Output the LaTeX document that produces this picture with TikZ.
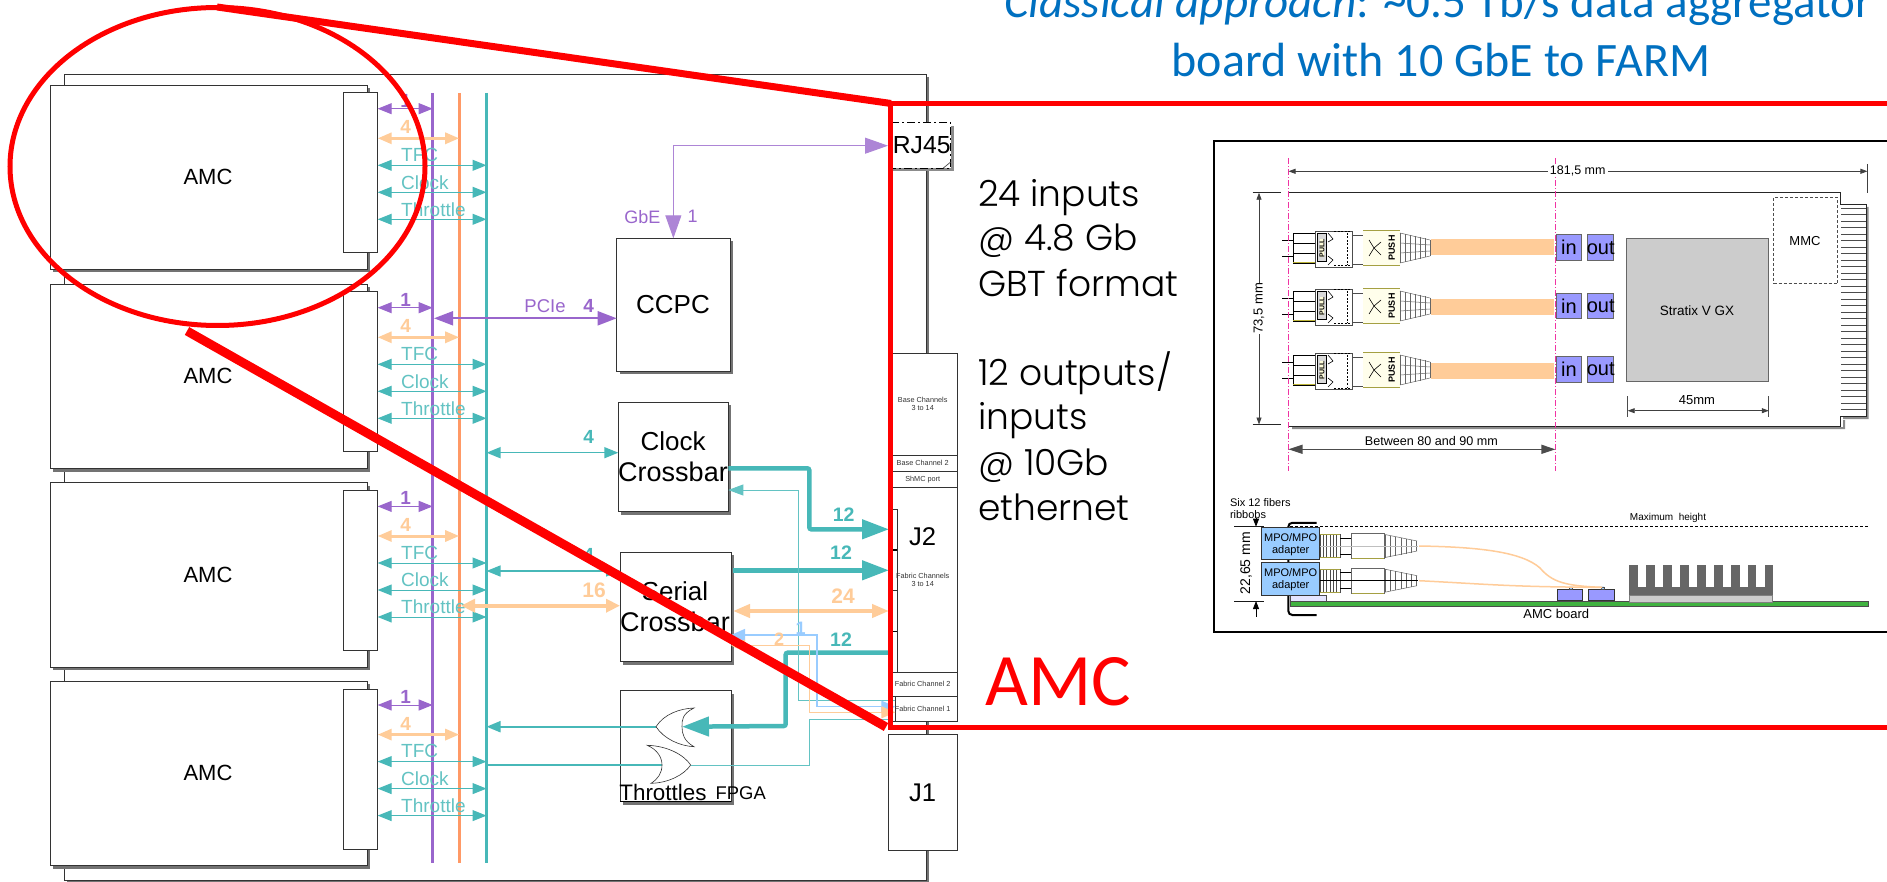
\documentclass[tikz,border=0pt]{standalone}
\usepackage{fontspec}
\setmainfont{Liberation Sans}
\newfontfamily\gothic{Poppins Light}
\newfontfamily\calib{Carlito}
\usetikzlibrary{arrows.meta,shadows,calc}
\definecolor{pur}{HTML}{9966CC}
\definecolor{pch}{HTML}{FFCC99}
\definecolor{org}{HTML}{FF9966}
\definecolor{tl}{HTML}{47B8B8}
\definecolor{lbl}{HTML}{99CCFF}
\definecolor{inb}{HTML}{9999FF}
\definecolor{ttl}{HTML}{0070C0}
\newcounter{txc}
\newcommand\bx[6]{%
 \pgfmathsetmacro\bxw{(#5)-(#3)}\pgfmathsetmacro\bxh{(#6)-(#4)}%
 \node[#2,minimum width=\bxw pt,minimum height=\bxh pt,inner sep=0pt,outer sep=0pt] (#1) at ({((#3)+(#5))/2},{((#4)+(#6))/2}) {};}
\newcommand\tx[5]{% x y size colour/options text
 \stepcounter{txc}\node[inner sep=0pt,#4,font=\fontsize{#3}{#3}\selectfont] (t\arabic{txc}) at (#1,#2) {#5};}
\newcommand\plugtop[1]{\begin{scope}[shift={(0,#1)}]
 \draw[line width=.7pt] (1282,-7.3) -- (1293,-7.3) (1282,8) -- (1293,8);
 \filldraw[fill=white,draw=black,line width=.8pt] (1293.3,-14.7) rectangle (1315.7,15.3);
 \draw[line width=.7pt] (1293.3,-4.7) -- (1315.7,-4.7) (1293.3,5.3) -- (1315.7,5.3);
 \draw[yellow!70!black,line width=.7pt] (1293.3,14.5) -- (1315.7,14.5);
 \filldraw[fill=white,draw=black!70,line width=.8pt] (1315,-17) rectangle (1352,19);
 \filldraw[fill=black!15,draw=black,line width=.6pt] (1317,-15) rectangle (1326,13);
 \node[inner sep=0pt,rotate=90,font=\fontsize{7}{7}\selectfont\bfseries,fill=yellow!15] (pl#1) at (1322,0) {PULL};
 \draw[line width=.6pt] (1328,-15) -- (1333,-9) -- (1328,-6) (1328,17) -- (1333,12) -- (1328,8);
 \draw[line width=1pt,dash pattern=on 2pt off 1.5pt] (1334,-16) -- (1350,-16) (1334,18) -- (1350,18) (1347.5,-15) -- (1347.5,17);
 \filldraw[fill=white,draw=black!70,line width=.6pt] (1352,-13) rectangle (1363,16);
 \fill[yellow!8] (1363,-18) rectangle (1400,17);
 \draw[yellow!60!black,line width=.5pt] (1363,-18) -- (1400,-18) (1363,17) -- (1400,17);
 \draw[line width=.6pt] (1369,-8) -- (1374,0) -- (1381,-6) (1374,0) -- (1369,8) (1374,0) -- (1381,7);
 \node[inner sep=0pt,rotate=90,font=\fontsize{9}{9}\selectfont\bfseries] (pu#1) at (1391.8,0) {PUSH};
 \foreach \k/\hh in {0/15,1/14,2/13,3/12,4/11,5/9.5,6/8}{\draw[black!60,line width=.7pt] ({1400+\k*5},-\hh) -- ({1400+\k*5},\hh);}
 \draw[black!60,line width=.5pt] (1400,-15) -- (1430,-8) (1400,15) -- (1430,8) (1400,-5) -- (1430,-3) (1400,5) -- (1430,3);
 \end{scope}}
\newcommand\plugside[2]{\begin{scope}[shift={(0,#1)}]
 \foreach \k in {0,...,5}{\draw[black!70,line width=.6pt,fill=white] ({1320+\k*3.3},-11.7) rectangle ++(3.3,23.4);}
 \draw[yellow!60!black,line width=.6pt] (1320,-11.7) -- (1340,-11.7) (1320,11.7) -- (1340,11.7);
 \draw[line width=.8pt] (1340,-8) -- (1351,-8) (1340,8) -- (1351,8);
 \filldraw[fill=white,draw=black!60,line width=.7pt] (1351,-12.7) rectangle (1384.3,12.7);
 \draw[yellow!60!black,line width=.7pt] (1352,12.7) -- (1384,12.7);
 \foreach \k/\hh in {0/11.5,1/10.5,2/9.5,3/8.5,4/7.5,5/6.5,6/5}{\draw[black!60,line width=.8pt] ({1385+\k*5.3},-\hh) -- ({1385+\k*5.3},\hh);}
 \draw[black!60,line width=.5pt] (1385,-11.5) -- (1417,-5) (1385,11.5) -- (1417,5);
 \draw[#2,line width=1pt] (1320,0) -- (1418,0);
 \end{scope}}
\tikzset{
 box/.style={draw=black!80,fill=white,line width=.8pt},
 shbox/.style={box,general shadow={fill=black!55,shadow xshift=3pt,shadow yshift=-3pt}},
 tiph/.style={arrows={Triangle[length=14pt,width=11pt]-Triangle[length=14pt,width=11pt]}},
 bigr/.style={arrows={-Triangle[length=27pt,width=19pt]},line width=4.5pt,tl},
 redl/.style={red,line width=6pt},
 pinkd/.style={magenta!80,line width=.8pt,dash pattern=on 6pt off 2pt on 1pt off 2pt},
 dimb/.style={black!75,line width=.8pt,arrows={Triangle[length=7pt,width=5pt]-Triangle[length=7pt,width=5pt]}},
}
\begin{document}
\begin{tikzpicture}[x=1pt,y=-1pt]
\useasboundingbox (0,0) rectangle (1887,882);
\clip (0,0) rectangle (1887,882);
\fill[white] (0,0) rectangle (1887,882);
% carrier board
\bx{board}{shbox}{64.3}{74}{926}{880}
% buses
\coordinate (bP) at (432.7,93); \coordinate (bO) at (459.2,93); \coordinate (bT) at (486.5,93);
\coordinate (bPe) at (432.7,863.3); \coordinate (bOe) at (459.2,863.3); \coordinate (bTe) at (486.5,863.3);
% AMC cards
\foreach \i/\t in {1/85,2/284,3/482.7,4/681.3}{
 \bx{amc\i}{shbox}{50.2}{\t}{367.2}{\t+184.5}
 \bx{conn\i}{box}{343}{\t+7.7}{377.7}{\t+167.7}
 \tx{208}{\t+92}{22}{}{AMC}
}
\draw[line width=3pt,pur] (bP) -- (bPe);
\draw[line width=3pt,org] (bO) -- (bOe);
\draw[line width=3pt,tl] (bT) -- (bTe);
\foreach \i in {1,2,3,4}{
 \coordinate (ap) at ($(conn\i.north east)+(0,16)$);
 \coordinate (ao) at ($(conn\i.north east)+(0,45.6)$);
 \coordinate (at) at ($(conn\i.north east)+(0,72.6)$);
 \coordinate (ac) at ($(conn\i.north east)+(0,99.6)$);
 \coordinate (ah) at ($(conn\i.north east)+(0,126.6)$);
 \draw[tiph,pur,line width=1pt] (ap) -- (ap -| bP);
 \draw[tiph,pch,line width=3pt] (ao) -- (ao -| bO);
 \draw[tiph,tl,line width=1pt] (at) -- (at -| bT);
 \draw[tiph,tl,line width=1pt] (ac) -- (ac -| bT);
 \draw[tiph,tl,line width=1pt] (ah) -- (ah -| bT);
 \path (ap) ++(28,-8) node[inner sep=0pt,pur,font=\fontsize{19}{19}\selectfont\bfseries] (l1\i) {1};
 \path (ao) ++(28,-11) node[inner sep=0pt,pch,font=\fontsize{19}{19}\selectfont\bfseries] (l4\i) {4};
 \path (at) ++(23.3,-10.5) node[inner sep=0pt,anchor=west,tl!85,font=\fontsize{19}{19}\selectfont] (lt\i) {TFC};
 \path (ac) ++(23.3,-10) node[inner sep=0pt,anchor=west,tl!85,font=\fontsize{19}{19}\selectfont] (lc\i) {Clock};
 \path (ah) ++(23.3,-10) node[inner sep=0pt,anchor=west,tl!85,font=\fontsize{19}{19}\selectfont] (lh\i) {Throttle};
}
% blocks
\bx{ccpc}{shbox}{616.7}{238.3}{730}{371}
\tx{673}{304.5}{26}{}{CCPC}
\bx{clk}{shbox}{618.3}{402.3}{728.3}{511.7}
\tx{673}{441.7}{26}{}{Clock}
\tx{673}{471.7}{27}{}{Crossbar}
\bx{ser}{shbox}{620}{552.3}{731}{661.7}
\tx{675}{591.7}{26}{}{Serial}
\tx{675}{621.7}{27}{}{Crossbar}
\bx{thr}{shbox}{620}{690.7}{731}{801.7}
% right side connectors
\bx{base}{box}{889}{353.3}{957.3}{455.7}
\bx{base2}{box}{889}{455.7}{957.3}{471}
\bx{shmc}{box}{889}{471}{957.3}{487.3}
\bx{j2}{box}{889}{487.3}{957.3}{672.7}
\bx{fab2}{box}{889}{672.7}{957.3}{696.7}
\bx{fab1}{box}{889}{696.7}{957.3}{721.7}
\bx{fab1b}{box}{889}{696.7}{895.3}{721.7}
\bx{j1}{box}{888.3}{734.3}{957.3}{850}
\foreach \n/\a/\b in {n1/509.3/550,n2/550/590.7,n3/590.7/631.7,n4/631.7/672.7}{\bx{\n}{box}{889}{\a}{897.3}{\b}}
\draw[black,line width=1.5pt] (n1.south west) -- (n1.south east) (n3.south west) -- (n3.south east);
\tx{922.7}{400}{7.3}{black!80}{Base Channels}
\tx{922.7}{408}{7.3}{black!80}{3 to 14}
\tx{922.7}{463.3}{7.3}{black!80}{Base Channel 2}
\tx{922.7}{480}{7.3}{black!80}{ShMC port}
\tx{922.7}{575.7}{7.3}{black!80}{Fabric Channels}
\tx{922.7}{584.3}{7.3}{black!80}{3 to 14}
\tx{922.7}{684.3}{7.3}{black!80}{Fabric Channel 2}
\tx{922.7}{709.3}{7.3}{black!80}{Fabric Channel 1}
\tx{922.7}{536.7}{25.6}{}{J2}
\tx{922.7}{793.3}{25.6}{}{J1}
% RJ45
\bx{rj}{draw=none,fill=black!45}{892}{126}{953.5}{171}
\bx{rjb}{draw=black,fill=white,line width=.8pt,dash pattern=on 8pt off 3pt on 2pt off 3pt}{888}{122.7}{950.7}{168.3}
\draw[black!70,line width=.7pt] (943,168.3) -- (950.7,162);
\tx{921.7}{145}{24.7}{}{RJ45}
% gates and connectors
\coordinate (g1t) at (656,726.7); \coordinate (g1a) at (682,726.7);
\coordinate (g2t) at (690.7,765); \coordinate (g2a) at (662,765);
\draw[tl,line width=2pt,arrows={Triangle[length=14pt,width=11pt]-}] (bT |- g1t) -- (g1t);
\draw[tl,line width=2pt] (bT |- g2a) -- (g2a);
\filldraw[fill=white,draw=black!80,line width=.6pt] (g1t) .. controls (664,714) and (680,708.5) .. (694,708) .. controls (682,714) and (682,720) .. (g1a) .. controls (682,734) and (684,741) .. (694,746.7) .. controls (680,746) and (664,739) .. (g1t) -- cycle;
\filldraw[fill=white,draw=black!80,line width=.6pt] (g2t) .. controls (684,755) and (668,746) .. (647.3,745.3) .. controls (658,750) and (662,758) .. (g2a) .. controls (662,773) and (658,779) .. (651,783.3) .. controls (668,783) and (684,775) .. (g2t) -- cycle;
\tx{706.7}{792.7}{22.4}{anchor=east}{Throttles}
\tx{766}{793.3}{18.4}{anchor=east}{FPGA}
\draw[black,line width=.8pt] (620,801.7) -- (731,801.7);
% bus to blocks
\coordinate (pcE) at (ccpc.west |- 0,318.3);
\draw[pur,line width=2pt,arrows={Triangle[length=19pt,width=14pt]-Triangle[length=19pt,width=14pt]}] (434,318.3) -- (pcE);
\tx{545}{306}{18.5}{pur}{PCIe}
\tx{588.6}{306}{19}{pur}{\bfseries 4}
\coordinate (clE) at (clk.west |- 0,452.7);
\draw[tl,line width=1.5pt,tiph] (clE -| bT) -- (clE);
\tx{588.6}{437}{19}{tl}{\bfseries 4}
\coordinate (seE) at (ser.west |- 0,571);
\draw[tl,line width=1.5pt,tiph] (seE -| bT) -- (seE);
\tx{588.6}{555}{19}{tl}{\bfseries 4}
\coordinate (seO) at (ser.west |- 0,605.7);
\draw[pch,line width=4pt,arrows={Triangle[length=14pt,width=13pt]-Triangle[length=14pt,width=13pt]}] (461,605.7) -- (seO);
\tx{594}{590}{21}{pch}{\bfseries 16}
% RJ45 to CCPC
\coordinate (rjW) at (rjb.west |- 0,145.7);
\coordinate (rjC) at (ccpc.north |- 0,145.7);
\draw[pur!80,line width=1pt,arrows={Triangle[length=23pt,width=16pt]-Triangle[length=23pt,width=16pt]}] (ccpc.north) -- (rjC) -- (rjW);
\tx{642.3}{216.7}{18}{pur}{GbE}
\tx{692.7}{216.7}{18}{pur}{1}
% crossbar outputs
\draw[bigr,rounded corners=2pt] (clk.east |- 0,468.3) -- (809.3,468.3) -- (809.3,529.3) -- (j2.west |- 0,529.3);
\tx{843.7}{515}{19.5}{tl}{\bfseries 12}
\draw[bigr] ($(ser.east |- 0,570.3)+(2,0)$) -- (j2.west |- 0,570.3);
\tx{841}{552.7}{19.5}{tl}{\bfseries 12}
\draw[pch,line width=4pt,arrows={Triangle[length=17pt,width=13pt]-Triangle[length=17pt,width=13pt]}] ($(ser.east |- 0,611)+(2,0)$) -- (j2.west |- 0,611);
\tx{843}{595.7}{21}{pch}{\bfseries 24}
\draw[bigr,rounded corners=2pt] (j2.west |- 0,652.7) -- (785.7,652.7) -- (785.7,726) -- (g1a);
\tx{841}{639.3}{19.5}{tl}{\bfseries 12}
% thin lines
\draw[tl!85,line width=.8pt] (g2t) -- (809.3,765) -- (809.3,719) -- (fab1.west |- 0,719);
\draw[tl!85,line width=.8pt,arrows={Triangle[length=15pt,width=11pt]-}] (clk.east |- 0,490) -- (798.7,490) -- (798.7,700.3) -- (895,700.3);
\draw[lbl,line width=1.3pt,arrows={Triangle[length=14pt,width=12pt]-Triangle[length=14pt,width=12pt]}] (ser.east |- 0,635) -- (817,635) -- (817,706.7) -- (fab1b.east |- 0,706.7);
\tx{800.7}{628.3}{18}{lbl}{\bfseries 1}
\draw[pch,line width=1pt,arrows={Triangle[length=14pt,width=12pt]-Triangle[length=14pt,width=12pt]}] (ser.east |- 0,645.7) -- (809.3,645.7) -- (809.3,712.3) -- (fab1b.east |- 0,712.3);
\tx{779}{639.3}{18}{pch}{\bfseries 2}
% text
\tx{1438}{18}{47}{anchor=base,ttl}{\calib\textit{Classical approach}: \char"007E 0.5 Tb/s data aggregator}
\tx{1441}{76.7}{48}{anchor=base,ttl}{\calib board with 10 GbE to FARM}
\foreach \y/\s in {206.4/{24 inputs},251/{@ 4.8 Gb},296.4/{GBT format},385/{12 outputs/},429.6/{inputs},475/{@ 10Gb},520.7/{ethernet}}{
 \tx{978}{\y}{36}{anchor=base west}{\gothic \s}}
\tx{985}{705.7}{74}{anchor=base west,red}{\calib AMC}
% mechanical drawing
\bx{frame}{draw=black,fill=white,line width=2pt}{1214}{140.7}{1900}{631.7}
\fill[black!45] (1292,427) rectangle (1843,429) (1843,420) rectangle (1845,429) (1866,207) rectangle (1868.5,419) (1843,416) rectangle (1868.5,419);
\filldraw[fill=white,draw=black!85,line width=.8pt] (1288.5,192.7) -- (1840.7,192.7) -- (1840.7,204) -- (1866,204) -- (1866,416) -- (1840.7,416) -- (1840.7,426) -- (1288.5,426);
\foreach \k in {0,...,31}{\draw[black!70,line width=.7pt] (1841,{208.3+6.5*\k}) -- (1866,{208.3+6.5*\k});}
\plugtop{248}\plugtop{306}\plugtop{370}
\foreach \y in {239.3,299.3,363.3}{\fill[pch] (1431.4,\y) rectangle (1554,\y+16);}
\foreach \n/\a/\b in {a/234.7/260.7,b/293/318.7,c/356.3/382.3}{
 \bx{in\n}{draw=black!60,fill=inb,line width=.8pt}{1556.3}{\a}{1581.7}{\b}
 \bx{ou\n}{draw=black!60,fill=inb,line width=.8pt}{1587.8}{\a}{1613.7}{\b}
 \node[inner sep=0pt,font=\fontsize{20}{20}\selectfont] (it\n) at (in\n) {in};
 \node[inner sep=0pt,font=\fontsize{20}{20}\selectfont] (ot\n) at (ou\n) {out};
}
\bx{stx}{draw=black!60,fill=black!20,line width=1pt}{1626}{238.3}{1768.8}{381.7}
\tx{1697}{310.3}{13.5}{}{Stratix V GX}
\bx{mmc}{draw=black!70,fill=white,line width=.7pt,densely dashed}{1773.6}{197.3}{1837.6}{283.7}
\tx{1805}{240.7}{13}{}{MMC}
\coordinate (pA) at (1288.5,158.3); \coordinate (pAe) at (1288.5,470.7);
\coordinate (pB) at (1555.4,158.3); \coordinate (pBe) at (1555.4,470.7);
\draw[pinkd] (pA) -- (pAe);
\draw[pinkd] (pB) -- (pBe);
% dimensions
\coordinate (dR) at (1867.4,171.3);
\draw[dimb] (pA |- dR) -- (dR);
\draw[black!75,line width=.8pt] (1867.4,164) -- (1867.4,193);
\tx{1577.7}{171}{12.5}{fill=white,inner xsep=2pt}{181,5 mm}
\coordinate (dT) at (1259,192.7); \coordinate (dB) at (1259,424.5);
\draw[dimb] (dT) -- (dB);
\draw[black!85,line width=.8pt] (1252.6,192.7) -- (1281,192.7) (1252.6,424.5) -- (1281,424.5);
\tx{1259}{308.3}{13}{rotate=90,fill=white,inner ysep=2pt}{73,5 mm}
\draw[dimb,black!70,line width=1.2pt,arrows={Triangle[length=14pt,width=9pt]-Triangle[length=14pt,width=9pt]}] (pA |- 0,449.3) -- (pB |- 0,449.3);
\tx{1431.4}{441}{12.6}{}{Between 80 and 90 mm}
\draw[dimb] (1627.7,410.7) -- (1768.8,410.7);
\draw[black!70,line width=.7pt] (1627.7,396) -- (1627.7,416.7) (1768.8,396) -- (1768.8,416.7);
\tx{1697}{400}{13}{}{45mm}
% side view
\tx{1229.8}{502.3}{11}{anchor=west}{Six 12 fibers}
\tx{1229.8}{514.3}{11}{anchor=west}{ribbobs}
\draw[black,line width=.8pt,densely dashed] (1290,526.7) -- (1868,526.7);
\tx{1668}{518.3}{10}{}{Maximum\ \ height}
\draw[black,line width=2pt,rounded corners=4pt] (1316.7,522.8) -- (1288.3,522.8) -- (1288.3,615) -- (1316.7,615);
\bx{lav}{draw=black!70,fill=blue!10,line width=.6pt}{1290.7}{595}{1326.7}{601}
\bx{pcb}{draw=black!70,fill=green!60!black!75,line width=.7pt}{1290}{601}{1868}{606.5}
\bx{stxs}{draw=black!50,fill=black!20,line width=.6pt}{1629.4}{595}{1772.7}{602}
\fill[black!60] (1629.4,586.7) rectangle (1772.7,595);
\foreach \k in {0,...,8}{\fill[black!60] ({1629.4+\k*16.9},565) rectangle ++(8.7,22);}
\bx{pa}{draw=black!80,fill=inb,line width=.6pt}{1557}{589}{1582}{600.7}
\bx{pb}{draw=black!80,fill=inb,line width=.6pt}{1588.7}{589}{1614}{600.7}
\draw[draw=black!70,fill=lbl,line width=.4pt] (1569.4,586.7) rectangle (1572.5,589) (1601,586.7) rectangle (1604,589);
\draw[pch,line width=1.5pt] (1419,546) .. controls (1480,547) and (1522,552) .. (1540,568) .. controls (1552,582) and (1565,586) .. (1602,587.3);
\draw[pch,line width=1.5pt] (1419,580.7) .. controls (1485,584) and (1510,587) .. (1602,587.3);
\plugside{546}{black!25}
\plugside{580.7}{black}
\bx{mpa}{draw=black!80,fill=lbl,line width=1pt}{1261.7}{527.7}{1319.7}{559.3}
\bx{mpb}{draw=black!80,fill=lbl,line width=1pt}{1261.7}{562.3}{1319.7}{595}
\tx{1290.7}{537.7}{11}{}{MPO/MPO}
\tx{1290.7}{550.3}{11}{}{adapter}
\tx{1290.7}{572.7}{11}{}{MPO/MPO}
\tx{1290.7}{585.3}{11}{}{adapter}
\draw[black!90,line width=.8pt] (1234,526.7) -- (1263.5,526.7) (1234,601) -- (1263.5,601);
\coordinate (sT) at (1256,526.7); \coordinate (sB) at (1256,601);
\draw[black,line width=.8pt,arrows={-Triangle[length=8pt,width=6pt]}] (1256,518) -- (sT);
\draw[black,line width=.8pt,arrows={-Triangle[length=8pt,width=6pt]}] (1256,616.7) -- (sB);
\tx{1246}{563.3}{14}{rotate=90}{22,65 mm}
\tx{1556.3}{614.3}{13}{}{AMC board}
% red zoom outline
\draw[red,line width=5pt] (217.5,166.5) ellipse (207.5 and 159);
\draw[redl,line width=5pt] (890,103.5) -- (1887,103.5);
\draw[redl,line width=5pt] (890,103.5) -- (890,727.3);
\draw[redl,line width=5pt] (888,727.3) -- (1887,727.3);
\draw[redl,line width=7pt] (217,7) -- (891,103.5);
\draw[redl,line width=9pt] (187,331) -- (886,727);
\end{tikzpicture}
\end{document}
